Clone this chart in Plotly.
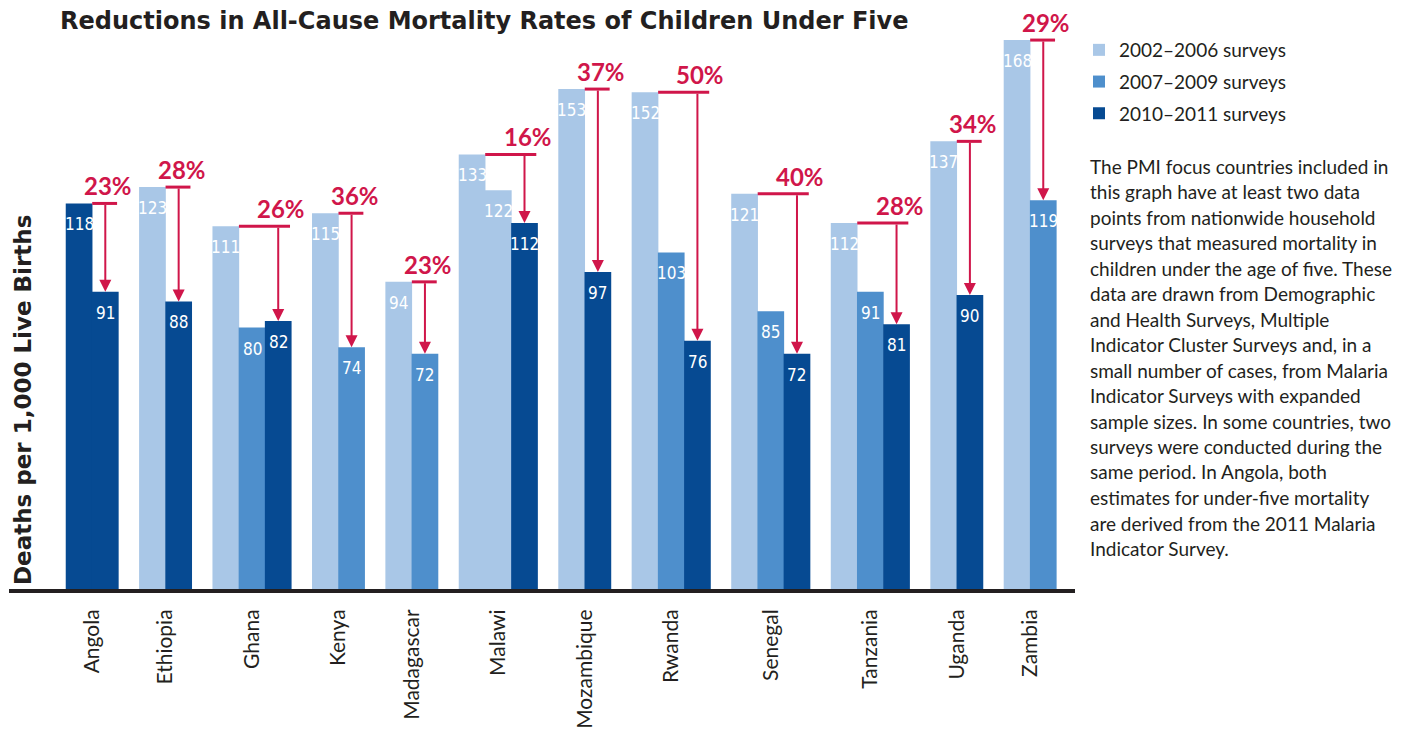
import plotly.graph_objects as go

# ---------------- data ----------------
countries = ["Angola", "Ethiopia", "Ghana", "Kenya", "Madagascar", "Malawi",
             "Mozambique", "Rwanda", "Senegal", "Tanzania", "Uganda", "Zambia"]
# survey period of each bar: 0 = 2002–2006, 1 = 2007–2009, 2 = 2010–2011
bar_periods = [[2, 2], [0, 2], [0, 1, 2], [0, 1], [0, 1], [0, 0, 2],
               [0, 2], [0, 1, 2], [0, 1, 2], [0, 1, 2], [0, 2], [0, 1]]
bar_values = [[118, 91], [123, 88], [111, 80, 82], [115, 74], [94, 72],
              [133, 122, 112], [153, 97], [152, 103, 76], [121, 85, 72],
              [112, 91, 81], [137, 90], [168, 119]]
reductions = ["23%", "28%", "26%", "36%", "23%", "16%",
              "37%", "50%", "40%", "28%", "34%", "29%"]
period_names = ["2002–2006 surveys", "2007–2009 surveys", "2010–2011 surveys"]

title_text = "Reductions in All-Cause Mortality Rates of Children Under Five"
ytitle_text = "Deaths per 1,000 Live Births"
note_lines = [
    "The PMI focus countries included in",
    "this graph have at least two data",
    "points from nationwide household",
    "surveys that measured mortality in",
    "children under the age of five. These",
    "data are drawn from Demographic",
    "and Health Surveys, Multiple",
    "Indicator Cluster Surveys and, in a",
    "small number of cases, from Malaria",
    "Indicator Surveys with expanded",
    "sample sizes. In some countries, two",
    "surveys were conducted during the",
    "same period. In Angola, both",
    "estimates for under-five mortality",
    "are derived from the 2011 Malaria",
    "Indicator Survey.",
]

# ---------------- style ----------------
period_colors = ["#A9C7E7", "#4E8FCC", "#064A92"]
RED = "#D0164A"
TXT = "#231F20"
FONT = "Lato, 'Open Sans', sans-serif"
WIDE_BOLD = "'DejaVu Sans', Verdana, sans-serif"
NARROW = "'Liberation Sans Narrow', 'Arial Narrow', 'DejaVu Sans Condensed', sans-serif"

# the page body has an 8px margin: lay out in window pixels minus that offset
OFF = 8
W, H = 1405 - OFF, 735 - OFF
ML = 8 - OFF + 1
MT = 27 - OFF
PLOT_RIGHT = 1075 - OFF
PLOT_BOTTOM = 589 - OFF
MR = W - PLOT_RIGHT
MB = H - PLOT_BOTTOM
PW, PH = W - ML - MR, H - MT - MB
GAP = 0.8
PX_PER_UNIT = 26.2


def px_x(xw):
    """window x pixel -> paper fraction"""
    return (xw - OFF - ML) / PW


def px_y(yw):
    """window y pixel -> paper fraction"""
    return (PLOT_BOTTOM - (yw - OFF)) / PH


# bar centre positions (one unit per bar, gap between countries)
positions = []
cursor = 0.0
for vals in bar_values:
    positions.append([cursor + i + 0.5 for i in range(len(vals))])
    cursor += len(vals) + GAP
group_centers = [(p[0] + p[-1]) / 2 for p in positions]

fig = go.Figure()
for k, name in enumerate(period_names):
    xs, ys = [], []
    for p, per, vals in zip(positions, bar_periods, bar_values):
        for xi, pk, v in zip(p, per, vals):
            if pk == k:
                xs.append(xi)
                ys.append(v)
    fig.add_trace(go.Bar(
        x=xs, y=ys, width=1.02, name=name,
        marker=dict(color=period_colors[k], line=dict(width=0)),
        legendgroup=str(k), hoverinfo="y",
    ))

annotations = []
shapes = []
# value labels inside the bars
for p, vals in zip(positions, bar_values):
    for xi, v in zip(p, vals):
        annotations.append(dict(
            x=xi, y=v, xref="x", yref="y", text=str(v), showarrow=False,
            yanchor="top", xanchor="center", yshift=-9,
            font=dict(family=NARROW, size=17, color="white"),
        ))

# reduction brackets and arrows
for p, vals, red in zip(positions, bar_values, reductions):
    x_first, x_last = p[0], p[-1]
    v0, v1 = vals[0], vals[-1]
    shapes.append(dict(
        type="line", xref="x", yref="y",
        x0=x_first + 0.5, x1=x_last + 0.45, y0=v0, y1=v0,
        line=dict(color=RED, width=3),
    ))
    annotations.append(dict(
        x=x_last, y=v1, ax=x_last, ay=v0, xref="x", yref="y",
        axref="x", ayref="y", text="", showarrow=True,
        arrowhead=2, arrowsize=1.2, arrowwidth=2, arrowcolor=RED, standoff=0,
    ))
    annotations.append(dict(
        x=x_last, y=v0, xref="x", yref="y", text="<b>%s</b>" % red,
        showarrow=False, yanchor="bottom", xanchor="center",
        yshift=1, xshift=3,
        font=dict(family=FONT, size=24, color=RED),
    ))

# y-axis title
annotations.append(dict(
    x=px_x(23), y=px_y(400), xref="paper", yref="paper",
    text="<b>%s</b>" % ytitle_text, textangle=-90, showarrow=False,
    xanchor="center", yanchor="middle",
    font=dict(family=WIDE_BOLD, size=23, color=TXT),
))

# explanatory note
for i, line in enumerate(note_lines):
    annotations.append(dict(
        x=px_x(1088), y=px_y(166 + i * 25.5), xref="paper", yref="paper",
        text=line, showarrow=False, xanchor="left", yanchor="middle",
        font=dict(family=FONT, size=19, color=TXT),
    ))

left_units = (66 - OFF - ML) / PX_PER_UNIT
fig.update_layout(
    width=W, height=H,
    margin=dict(l=ML, r=MR, t=MT, b=MB, pad=0, autoexpand=False),
    plot_bgcolor="white", paper_bgcolor="white",
    title=dict(text="<b>%s</b>" % title_text, x=(60 - OFF) / W, xanchor="left",
               xref="container", y=1 - (21 - OFF) / H, yanchor="middle",
               yref="container",
               font=dict(family=WIDE_BOLD, size=24, color=TXT)),
    barmode="overlay",
    showlegend=True,
    legend=dict(x=(1079 - OFF) / W, y=1 - (31 - OFF) / H,
                xref="container", yref="container",
                xanchor="left", yanchor="top", tracegroupgap=4,
                font=dict(family=FONT, size=19, color=TXT),
                bgcolor="rgba(0,0,0,0)"),
    xaxis=dict(range=[-left_units, -left_units + PW / PX_PER_UNIT],
               tickmode="array", tickvals=group_centers, ticktext=countries,
               tickangle=-90, showline=True, linewidth=4, linecolor=TXT,
               showgrid=False, zeroline=False, ticks="", ticklabelstandoff=8,
               automargin=False,
               tickfont=dict(family=FONT, size=21, color=TXT), fixedrange=True),
    yaxis=dict(range=[0, 172], visible=False, showgrid=False, zeroline=False,
               automargin=False, fixedrange=True),
    annotations=annotations,
    shapes=shapes,
)

fig.write_html("out.html")
